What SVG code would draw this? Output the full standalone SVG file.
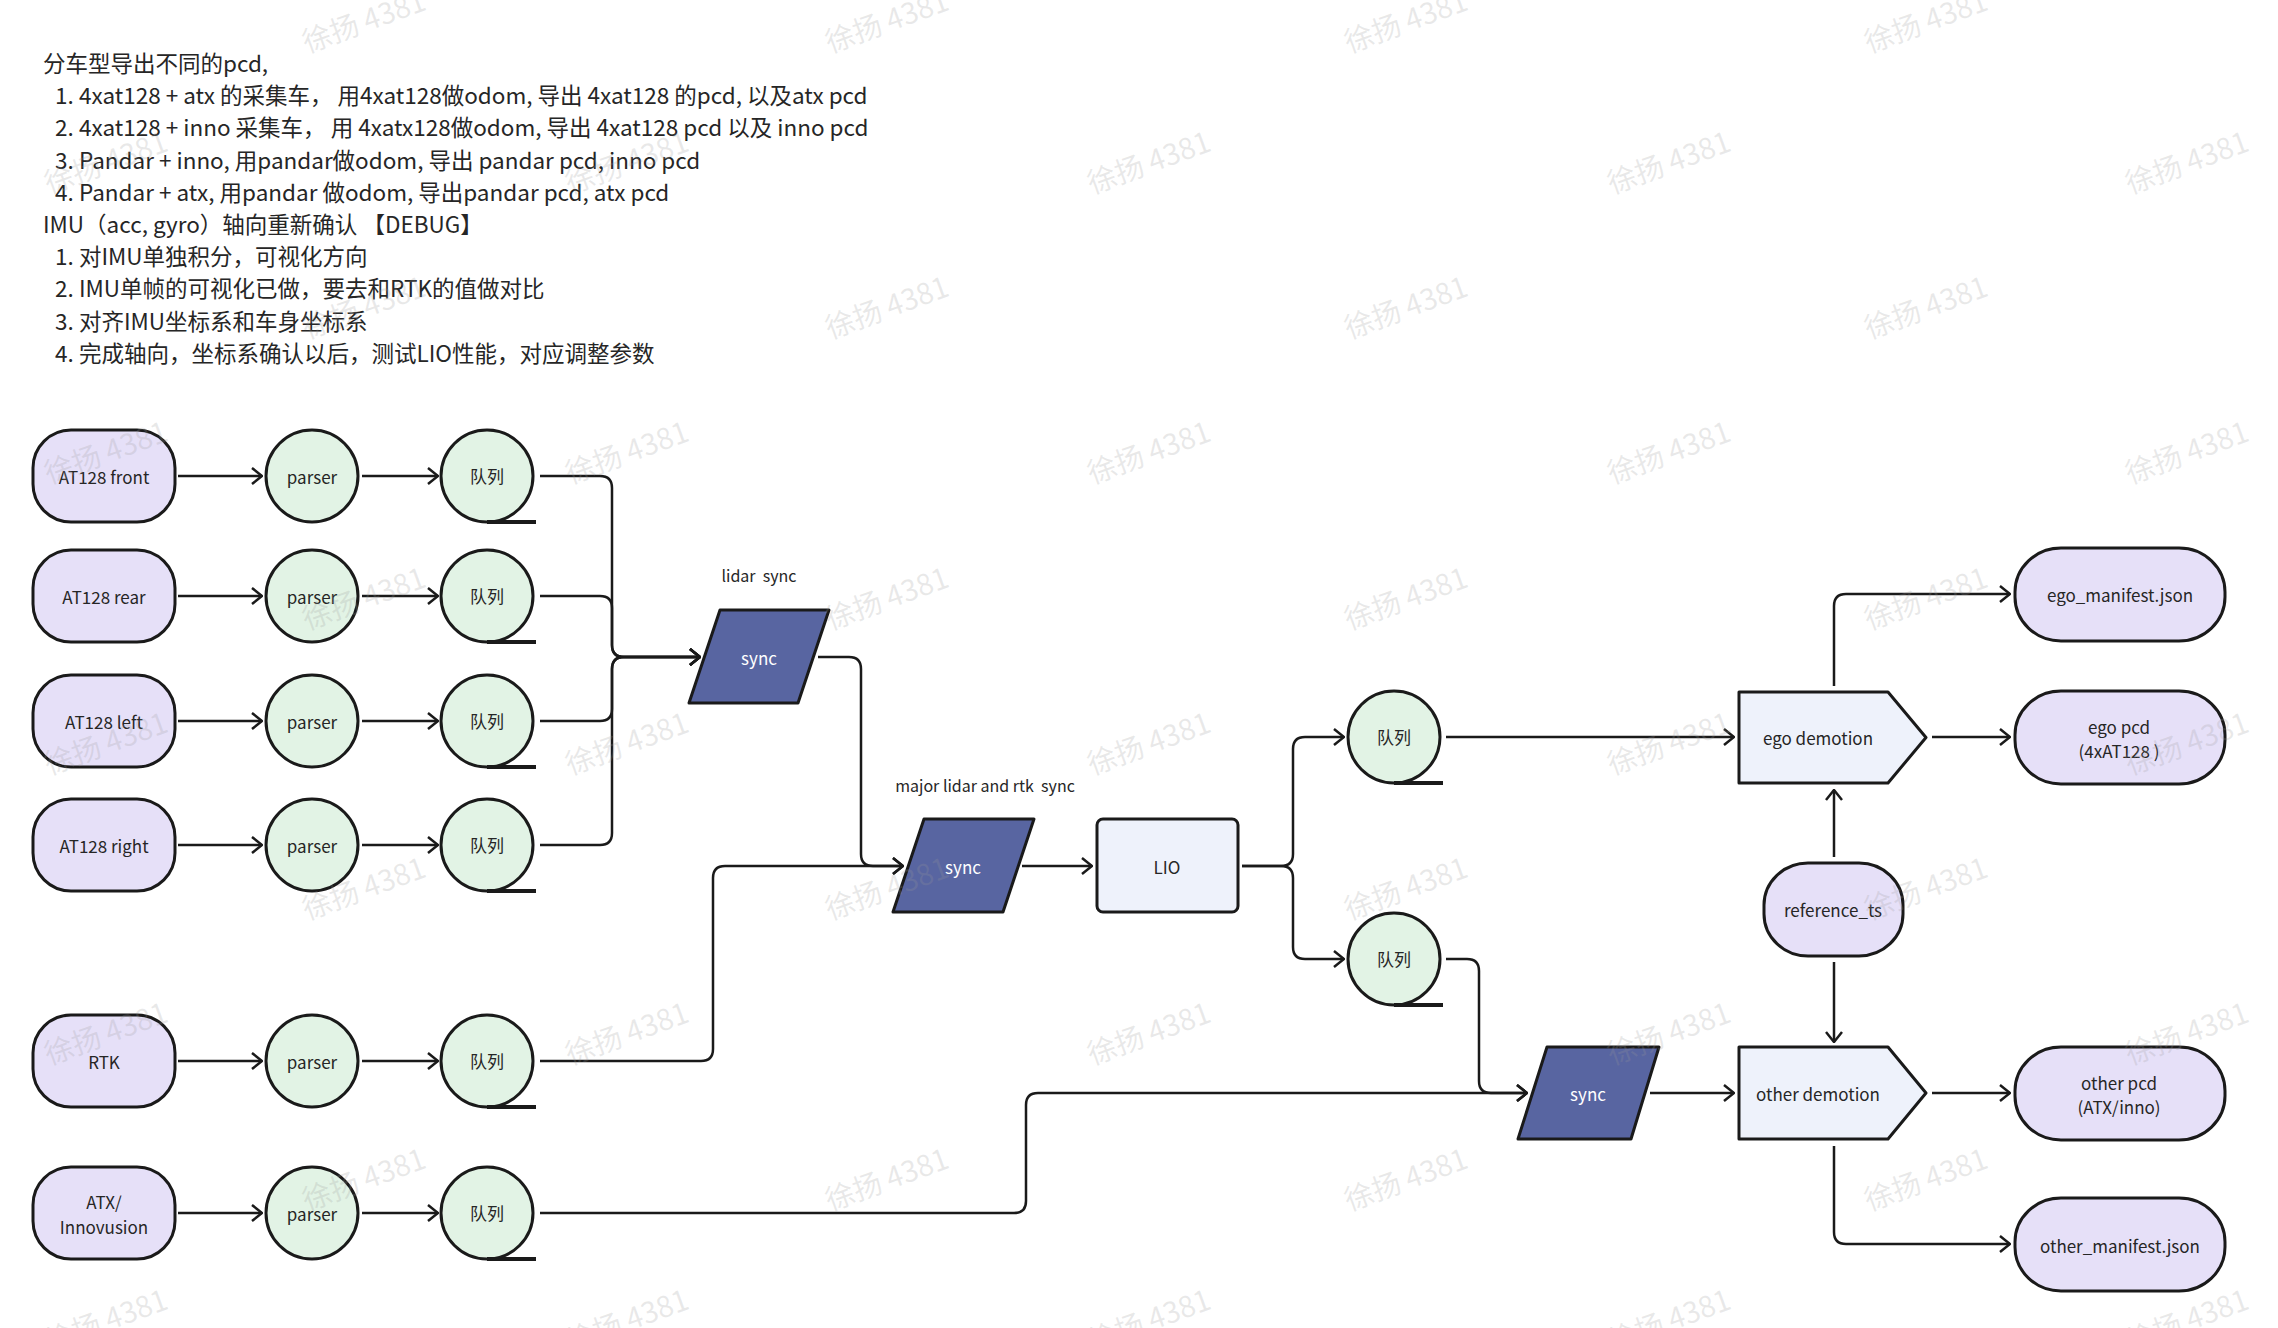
<svg xmlns="http://www.w3.org/2000/svg" width="2278" height="1328" viewBox="0 0 2278 1328">
<defs>
<style>
text{font-family:"Noto Sans CJK SC","Noto Sans",sans-serif;fill:#262626}
.hd{font-size:22.5px}
.nt{font-size:17px;text-anchor:middle;dominant-baseline:central}
.lb{font-size:16px;text-anchor:middle;white-space:pre}
.wt{font-size:17px;text-anchor:middle;dominant-baseline:central;fill:#ffffff}
.src{fill:#e6e0f8;stroke:#1a1a1a;stroke-width:3}
.grn{fill:#e2f3e5;stroke:#1a1a1a;stroke-width:3}
.syn{fill:#5865a1;stroke:#1a1a1a;stroke-width:3;stroke-linejoin:round}
.box{fill:#eef2fb;stroke:#1a1a1a;stroke-width:3;stroke-linejoin:round}
.tail{stroke:#1a1a1a;stroke-width:4;fill:none}
.con{fill:none;stroke:#1a1a1a;stroke-width:2.5;marker-end:url(#arr)}
.wm{font-size:29px;fill:#9a9a9a;fill-opacity:0.22;text-anchor:middle;dominant-baseline:central}
</style>
<marker id="arr" markerUnits="userSpaceOnUse" viewBox="0 0 12 18" refX="11" refY="9" markerWidth="12" markerHeight="18" orient="auto">
<path d="M1,1 L11,9 L1,17" fill="none" stroke="#1a1a1a" stroke-width="2.5"/>
</marker>
</defs>
<rect width="2278" height="1328" fill="#ffffff"/>

<g id="notes">
<text class="hd" x="43" y="72">分车型导出不同的pcd,</text>
<text class="hd" x="55" y="104">1.</text><text class="hd" x="79" y="104">4xat128 + atx 的采集车， 用4xat128做odom, 导出 4xat128 的pcd, 以及atx pcd</text>
<text class="hd" x="55" y="136">2.</text><text class="hd" x="79" y="136">4xat128 + inno 采集车， 用 4xatx128做odom, 导出 4xat128 pcd 以及 inno pcd</text>
<text class="hd" x="55" y="169">3.</text><text class="hd" x="79" y="169">Pandar + inno, 用pandar做odom, 导出 pandar pcd, inno pcd</text>
<text class="hd" x="55" y="201">4.</text><text class="hd" x="79" y="201">Pandar + atx, 用pandar 做odom, 导出pandar pcd, atx pcd</text>
<text class="hd" x="43" y="233">IMU（acc, gyro）轴向重新确认 【DEBUG】</text>
<text class="hd" x="55" y="265">1.</text><text class="hd" x="79" y="265">对IMU单独积分，可视化方向</text>
<text class="hd" x="55" y="297">2.</text><text class="hd" x="79" y="297">IMU单帧的可视化已做，要去和RTK的值做对比</text>
<text class="hd" x="55" y="330">3.</text><text class="hd" x="79" y="330">对齐IMU坐标系和车身坐标系</text>
<text class="hd" x="55" y="362">4.</text><text class="hd" x="79" y="362">完成轴向，坐标系确认以后，测试LIO性能，对应调整参数</text>
</g>

<g id="connectors">
<path class="con" d="M178 476 H262"/>
<path class="con" d="M178 596 H262"/>
<path class="con" d="M178 721 H262"/>
<path class="con" d="M178 845 H262"/>
<path class="con" d="M178 1061 H262"/>
<path class="con" d="M178 1213 H262"/>
<path class="con" d="M362 476 H438"/>
<path class="con" d="M362 596 H438"/>
<path class="con" d="M362 721 H438"/>
<path class="con" d="M362 845 H438"/>
<path class="con" d="M362 1061 H438"/>
<path class="con" d="M362 1213 H438"/>
<path class="con" d="M540 476 H600 Q612 476 612 488 V645 Q612 657 624 657 H700"/>
<path class="con" d="M540 596 H600 Q612 596 612 608 V645 Q612 657 624 657 H700"/>
<path class="con" d="M540 721 H600 Q612 721 612 709 V669 Q612 657 624 657 H700"/>
<path class="con" d="M540 845 H600 Q612 845 612 833 V669 Q612 657 624 657 H700"/>
<path class="con" d="M818 657 H849 Q861 657 861 669 V854 Q861 866 873 866 H903"/>
<path class="con" d="M540 1061 H701 Q713 1061 713 1049 V878 Q713 866 725 866 H903"/>
<path class="con" d="M1022 866 H1092"/>
<path class="con" d="M1242 866 H1281 Q1293 866 1293 854 V749 Q1293 737 1305 737 H1344"/>
<path class="con" d="M1242 866 H1281 Q1293 866 1293 878 V947 Q1293 959 1305 959 H1344"/>
<path class="con" d="M1446 737 H1734"/>
<path class="con" d="M1446 959 H1467 Q1479 959 1479 971 V1081 Q1479 1093 1491 1093 H1527"/>
<path class="con" d="M540 1213 H1014 Q1026 1213 1026 1201 V1105 Q1026 1093 1038 1093 H1527"/>
<path class="con" d="M1650 1093 H1734"/>
<path class="con" d="M1834 686 V606 Q1834 594 1846 594 H2010"/>
<path class="con" d="M1932 737 H2010"/>
<path class="con" d="M1834 857 V790"/>
<path class="con" d="M1834 962 V1042"/>
<path class="con" d="M1932 1093 H2010"/>
<path class="con" d="M1834 1146 V1232 Q1834 1244 1846 1244 H2010"/>
</g>

<g id="at128-front"><rect class="src" x="33" y="430" width="142" height="92" rx="38" ry="38"/><text class="nt" x="104" y="476">AT128 front</text></g>
<g id="at128-rear"><rect class="src" x="33" y="550" width="142" height="92" rx="38" ry="38"/><text class="nt" x="104" y="596">AT128 rear</text></g>
<g id="at128-left"><rect class="src" x="33" y="675" width="142" height="92" rx="38" ry="38"/><text class="nt" x="104" y="721">AT128 left</text></g>
<g id="at128-right"><rect class="src" x="33" y="799" width="142" height="92" rx="38" ry="38"/><text class="nt" x="104" y="845">AT128 right</text></g>
<g id="rtk"><rect class="src" x="33" y="1015" width="142" height="92" rx="38" ry="38"/><text class="nt" x="104" y="1061">RTK</text></g>
<g id="atx"><rect class="src" x="33" y="1167" width="142" height="92" rx="38" ry="38"/><text class="nt" x="104" y="1201">ATX/</text><text class="nt" x="104" y="1226">Innovusion</text></g>

<g id="parser1"><ellipse class="grn" cx="312" cy="476" rx="46" ry="46"/><text class="nt" x="312" y="476">parser</text></g>
<g id="parser2"><ellipse class="grn" cx="312" cy="596" rx="46" ry="46"/><text class="nt" x="312" y="596">parser</text></g>
<g id="parser3"><ellipse class="grn" cx="312" cy="721" rx="46" ry="46"/><text class="nt" x="312" y="721">parser</text></g>
<g id="parser4"><ellipse class="grn" cx="312" cy="845" rx="46" ry="46"/><text class="nt" x="312" y="845">parser</text></g>
<g id="parser5"><ellipse class="grn" cx="312" cy="1061" rx="46" ry="46"/><text class="nt" x="312" y="1061">parser</text></g>
<g id="parser6"><ellipse class="grn" cx="312" cy="1213" rx="46" ry="46"/><text class="nt" x="312" y="1213">parser</text></g>

<g id="queue1"><circle class="grn" cx="487" cy="476" r="46"/><path class="tail" d="M487 522 H536"/><text class="nt" x="487" y="475">队列</text></g>
<g id="queue2"><circle class="grn" cx="487" cy="596" r="46"/><path class="tail" d="M487 642 H536"/><text class="nt" x="487" y="595">队列</text></g>
<g id="queue3"><circle class="grn" cx="487" cy="721" r="46"/><path class="tail" d="M487 767 H536"/><text class="nt" x="487" y="720">队列</text></g>
<g id="queue4"><circle class="grn" cx="487" cy="845" r="46"/><path class="tail" d="M487 891 H536"/><text class="nt" x="487" y="844">队列</text></g>
<g id="queue5"><circle class="grn" cx="487" cy="1061" r="46"/><path class="tail" d="M487 1107 H536"/><text class="nt" x="487" y="1060">队列</text></g>
<g id="queue6"><circle class="grn" cx="487" cy="1213" r="46"/><path class="tail" d="M487 1259 H536"/><text class="nt" x="487" y="1212">队列</text></g>

<g id="lidar-sync"><text class="lb" x="759" y="582" xml:space="preserve">lidar  sync</text><polygon class="syn" points="720,610 829,610 798,703 689,703"/><text class="wt" x="759" y="657">sync</text></g>
<g id="major-sync"><text class="lb" x="985" y="792" xml:space="preserve">major lidar and rtk  sync</text><polygon class="syn" points="924,819 1034,819 1003,912 893,912"/><text class="wt" x="963" y="866">sync</text></g>
<g id="lio"><rect class="box" x="1097" y="819" width="141" height="93" rx="6"/><text class="nt" x="1167" y="866">LIO</text></g>
<g id="queue7"><circle class="grn" cx="1394" cy="737" r="46"/><path class="tail" d="M1394 783 H1443"/><text class="nt" x="1394" y="736">队列</text></g>
<g id="queue8"><circle class="grn" cx="1394" cy="959" r="46"/><path class="tail" d="M1394 1005 H1443"/><text class="nt" x="1394" y="958">队列</text></g>
<g id="sync3"><polygon class="syn" points="1547,1047 1659,1047 1631,1139 1518,1139"/><text class="wt" x="1588" y="1093">sync</text></g>

<g id="ego-demotion"><polygon class="box" points="1739,692 1888,692 1926,737.5 1888,783 1739,783"/><text class="nt" x="1818" y="737">ego demotion</text></g>
<g id="other-demotion"><polygon class="box" points="1739,1047 1888,1047 1926,1093 1888,1139 1739,1139"/><text class="nt" x="1818" y="1093">other demotion</text></g>
<g id="reference-ts"><rect class="src" x="1764" y="863" width="139" height="93" rx="44" ry="42"/><text class="nt" x="1833" y="909">reference_ts</text></g>
<g id="ego-manifest"><rect class="src" x="2015" y="548" width="210" height="93" rx="46" ry="44"/><text class="nt" x="2120" y="594">ego_manifest.json</text></g>
<g id="ego-pcd"><rect class="src" x="2015" y="691" width="210" height="93" rx="46" ry="44"/><text class="nt" x="2119" y="726">ego pcd</text><text class="nt" x="2119" y="750">(4xAT128 )</text></g>
<g id="other-pcd"><rect class="src" x="2015" y="1047" width="210" height="93" rx="46" ry="44"/><text class="nt" x="2119" y="1082">other pcd</text><text class="nt" x="2119" y="1106">(ATX/inno)</text></g>
<g id="other-manifest"><rect class="src" x="2015" y="1198" width="210" height="93" rx="46" ry="44"/><text class="nt" x="2120" y="1245">other_manifest.json</text></g>

<g id="watermarks">
<text class="wm" transform="translate(363,19) rotate(-20)">徐扬 4381</text>
<text class="wm" transform="translate(886,19) rotate(-20)">徐扬 4381</text>
<text class="wm" transform="translate(1405,19) rotate(-20)">徐扬 4381</text>
<text class="wm" transform="translate(1925,19) rotate(-20)">徐扬 4381</text>
<text class="wm" transform="translate(105,160) rotate(-20)">徐扬 4381</text>
<text class="wm" transform="translate(626,160) rotate(-20)">徐扬 4381</text>
<text class="wm" transform="translate(1148,160) rotate(-20)">徐扬 4381</text>
<text class="wm" transform="translate(1668,160) rotate(-20)">徐扬 4381</text>
<text class="wm" transform="translate(2186,160) rotate(-20)">徐扬 4381</text>
<text class="wm" transform="translate(363,305) rotate(-20)">徐扬 4381</text>
<text class="wm" transform="translate(886,305) rotate(-20)">徐扬 4381</text>
<text class="wm" transform="translate(1405,305) rotate(-20)">徐扬 4381</text>
<text class="wm" transform="translate(1925,305) rotate(-20)">徐扬 4381</text>
<text class="wm" transform="translate(105,450) rotate(-20)">徐扬 4381</text>
<text class="wm" transform="translate(626,450) rotate(-20)">徐扬 4381</text>
<text class="wm" transform="translate(1148,450) rotate(-20)">徐扬 4381</text>
<text class="wm" transform="translate(1668,450) rotate(-20)">徐扬 4381</text>
<text class="wm" transform="translate(2186,450) rotate(-20)">徐扬 4381</text>
<text class="wm" transform="translate(363,596) rotate(-20)">徐扬 4381</text>
<text class="wm" transform="translate(886,596) rotate(-20)">徐扬 4381</text>
<text class="wm" transform="translate(1405,596) rotate(-20)">徐扬 4381</text>
<text class="wm" transform="translate(1925,596) rotate(-20)">徐扬 4381</text>
<text class="wm" transform="translate(105,741) rotate(-20)">徐扬 4381</text>
<text class="wm" transform="translate(626,741) rotate(-20)">徐扬 4381</text>
<text class="wm" transform="translate(1148,741) rotate(-20)">徐扬 4381</text>
<text class="wm" transform="translate(1668,741) rotate(-20)">徐扬 4381</text>
<text class="wm" transform="translate(2186,741) rotate(-20)">徐扬 4381</text>
<text class="wm" transform="translate(363,886) rotate(-20)">徐扬 4381</text>
<text class="wm" transform="translate(886,886) rotate(-20)">徐扬 4381</text>
<text class="wm" transform="translate(1405,886) rotate(-20)">徐扬 4381</text>
<text class="wm" transform="translate(1925,886) rotate(-20)">徐扬 4381</text>
<text class="wm" transform="translate(105,1031) rotate(-20)">徐扬 4381</text>
<text class="wm" transform="translate(626,1031) rotate(-20)">徐扬 4381</text>
<text class="wm" transform="translate(1148,1031) rotate(-20)">徐扬 4381</text>
<text class="wm" transform="translate(1668,1031) rotate(-20)">徐扬 4381</text>
<text class="wm" transform="translate(2186,1031) rotate(-20)">徐扬 4381</text>
<text class="wm" transform="translate(363,1177) rotate(-20)">徐扬 4381</text>
<text class="wm" transform="translate(886,1177) rotate(-20)">徐扬 4381</text>
<text class="wm" transform="translate(1405,1177) rotate(-20)">徐扬 4381</text>
<text class="wm" transform="translate(1925,1177) rotate(-20)">徐扬 4381</text>
<text class="wm" transform="translate(105,1318) rotate(-20)">徐扬 4381</text>
<text class="wm" transform="translate(626,1318) rotate(-20)">徐扬 4381</text>
<text class="wm" transform="translate(1148,1318) rotate(-20)">徐扬 4381</text>
<text class="wm" transform="translate(1668,1318) rotate(-20)">徐扬 4381</text>
<text class="wm" transform="translate(2186,1318) rotate(-20)">徐扬 4381</text>
</g>
</svg>
